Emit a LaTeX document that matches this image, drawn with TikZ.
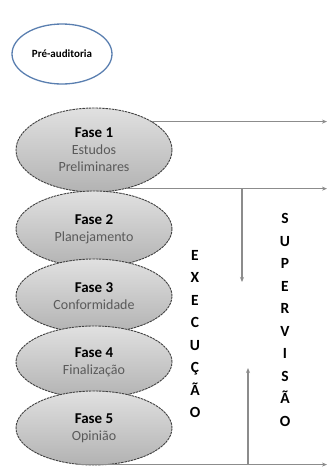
\documentclass[tikz,border=0pt]{standalone}
\usepackage{fontspec}
\setmainfont{Carlito}
\usetikzlibrary{shapes.geometric,arrows.meta}
\definecolor{lineg}{HTML}{8C8C8C}
\definecolor{bordg}{HTML}{404040}
\definecolor{subg}{HTML}{5A5A5A}
\definecolor{preblue}{HTML}{5A7FB0}
\begin{document}
\begin{tikzpicture}[x=1pt,y=-1pt,
  phase/.style={ellipse, draw=bordg, dash pattern=on 2.5pt off 0.8pt, line width=0.9pt,
    top color=black!12, bottom color=black!30, minimum width=156pt, inner sep=0pt,
    align=center, text=subg, font=\fontsize{14}{17}\selectfont},
  prebox/.style={ellipse, draw=preblue, line width=1.3pt, fill=white, minimum width=100pt,
    minimum height=60pt, inner sep=0pt, font=\bfseries\fontsize{11}{13}\selectfont},
  conn/.style={draw=lineg, line width=1.1pt, -{Stealth[length=5pt,width=4pt]}},
  vert/.style={align=center, inner sep=0pt, font=\bfseries\fontsize{15.5}{22.5}\selectfont}
]
\useasboundingbox (0,0) rectangle (329,467);
\fill[white] (0,0) rectangle (329,467);

\node[prebox] (pre) at (62,54) {Pré-auditoria};

\node[phase, minimum height=84pt] (f1) at (94,150) {\textcolor{black}{\bfseries\fontsize{15}{17}\selectfont Fase 1}\\Estudos\\Preliminares};
\node[phase, minimum height=76pt] (f2) at (94,229) {\textcolor{black}{\bfseries\fontsize{15}{17}\selectfont Fase 2}\\Planejamento};
\node[phase, minimum height=74pt] (f3) at (94,296) {\textcolor{black}{\bfseries\fontsize{15}{17}\selectfont Fase 3}\\Conformidade};
\node[phase, minimum height=72pt] (f4) at (94,362) {\textcolor{black}{\bfseries\fontsize{15}{17}\selectfont Fase 4}\\Finalização};
\node[phase, minimum height=74pt] (f5) at (94,428) {\textcolor{black}{\bfseries\fontsize{15}{17}\selectfont Fase 5}\\Opinião};

\node[vert] (exec) at (195,334) {E\\X\\E\\C\\U\\Ç\\Ã\\O};
\node[vert] (sup) at (285,320) {S\\U\\P\\E\\R\\V\\I\\S\\Ã\\O};

\coordinate (rx) at (327,0);
\coordinate (dn) at (242,282);
\coordinate (up) at (248,368);

\draw[conn] (f1.26) -- (f1.26 -| rx);
\draw[conn] (f1.-50) -- (f1.-50 -| rx);
\draw[conn] (dn |- f1.-50) -- (dn);
\draw[conn] (f5.-115) -- (f5.-115 -| rx);
\draw[conn] (up |- f5.-115) -- (up);
\end{tikzpicture}
\end{document}
